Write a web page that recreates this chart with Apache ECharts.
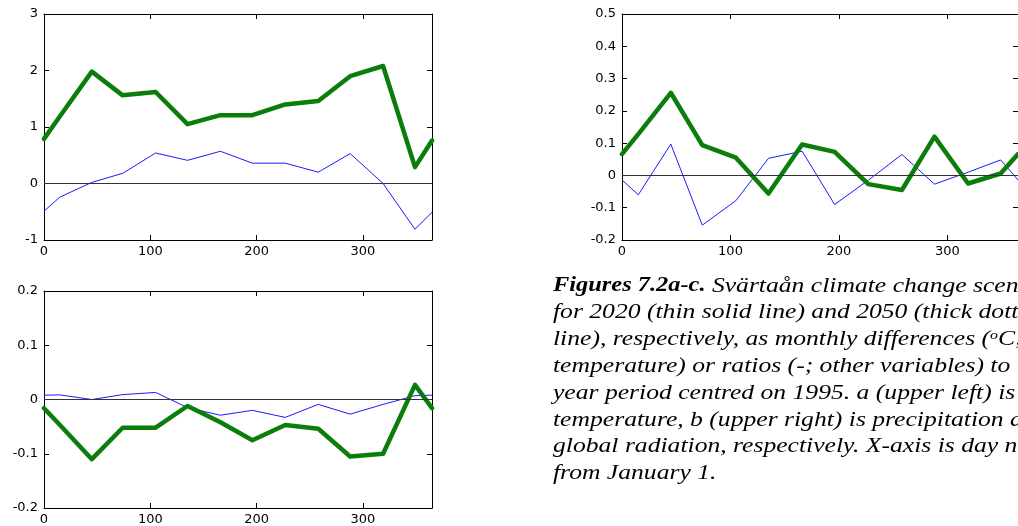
<!DOCTYPE html>
<html>
<head>
<meta charset="utf-8">
<script src="https://cdn.jsdelivr.net/npm/echarts@6/dist/echarts.min.js"></script>
<style>
html,body{margin:0;padding:0;background:#fff;}
#main{width:1018px;height:526px;}
</style>
</head>
<body>
<div id="main"></div>
<script>
// Day numbers (mid-month points plus year ends)
const days = [0, 15, 45, 74, 105, 135, 166, 196, 227, 258, 288, 319, 349, 365];
const xTicks = [0, 100, 200, 300];

// a) temperature differences (°C)
const temp2020 = [-0.49, -0.24, 0.02, 0.18, 0.54, 0.41, 0.57, 0.36, 0.36, 0.20, 0.53, 0.00, -0.81, -0.51];
const temp2050 = [0.79, 1.19, 1.98, 1.56, 1.62, 1.05, 1.21, 1.21, 1.40, 1.46, 1.90, 2.08, 0.29, 0.76];

// b) precipitation ratios
const prec2020 = [-0.014, -0.060, 0.097, -0.154, -0.078, 0.053, 0.075, -0.090, -0.015, 0.065, -0.027, 0.010, 0.048, -0.014];
const prec2050 = [0.066, 0.128, 0.256, 0.094, 0.055, -0.056, 0.096, 0.073, -0.027, -0.045, 0.120, -0.025, 0.006, 0.066];

// c) global radiation ratios
const rad2020 = [0.008, 0.0085, 0.000, 0.009, 0.013, -0.015, -0.029, -0.020, -0.033, -0.009, -0.027, -0.009, 0.007, 0.008];
const rad2050 = [-0.016, -0.047, -0.110, -0.052, -0.052, -0.012, -0.042, -0.075, -0.047, -0.054, -0.105, -0.100, 0.027, -0.016];

// caption lines
const captionLines = [
  '{b|Figures 7.2a-c.} Svärtaån climate change scenarios',
  'for 2020 (thin solid line) and 2050 (thick dotted',
  'line), respectively, as monthly differences ({s|o}C;',
  'temperature) or ratios (-; other variables) to the 30-',
  'year period centred on 1995. a (upper left) is',
  'temperature, b (upper right) is precipitation and c',
  'global radiation, respectively. X-axis is day number',
  'from January 1.'
];

const panels = [
  {grid: {left: 44, top: 14, width: 388, height: 226}, yMin: -1, yMax: 3, yInt: 1, thin: temp2020, thick: temp2050},
  {grid: {left: 622, top: 14, width: 404, height: 226}, yMin: -0.2, yMax: 0.5, yInt: 0.1, thin: prec2020, thick: prec2050},
  {grid: {left: 44, top: 291, width: 388, height: 219}, yMin: -0.2, yMax: 0.2, yInt: 0.1, thin: rad2020, thick: rad2050}
];

const labelFont = {fontFamily: 'DejaVu Sans', fontSize: 13, color: '#000'};
const axLine = {show: true, onZero: false, lineStyle: {color: '#000', width: 1}};

const grids = [], xAxes = [], yAxes = [], series = [];
panels.forEach((p, i) => {
  grids.push(Object.assign({containLabel: false}, p.grid));
  xAxes.push({
    gridIndex: i, type: 'value', min: 0, max: 365, position: 'bottom',
    axisLine: axLine,
    axisTick: {show: true, inside: true, length: 5, customValues: xTicks, lineStyle: {color: '#000'}},
    axisLabel: Object.assign({customValues: xTicks, margin: 5}, labelFont),
    splitLine: {show: false}
  });
  xAxes.push({
    gridIndex: i, type: 'value', min: 0, max: 365, position: 'top',
    axisLine: axLine,
    axisTick: {show: true, inside: true, length: 5, customValues: xTicks, lineStyle: {color: '#000'}},
    axisLabel: {show: false},
    splitLine: {show: false}
  });
  yAxes.push({
    gridIndex: i, type: 'value', min: p.yMin, max: p.yMax, interval: p.yInt, position: 'left',
    axisLine: axLine,
    axisTick: {show: true, inside: true, length: 5, lineStyle: {color: '#000'}},
    axisLabel: Object.assign({margin: 6}, labelFont),
    splitLine: {show: false}
  });
  yAxes.push({
    gridIndex: i, type: 'value', min: p.yMin, max: p.yMax, interval: p.yInt, position: 'right',
    axisLine: axLine,
    axisTick: {show: true, inside: true, length: 5, lineStyle: {color: '#000'}},
    axisLabel: {show: false},
    splitLine: {show: false}
  });
  series.push({
    type: 'line', xAxisIndex: 2 * i, yAxisIndex: 2 * i,
    data: days.map((d, k) => [d, p.thin[k]]),
    symbol: 'none', lineStyle: {color: '#1a1aff', width: 1}, z: 3,
    markLine: {
      silent: true, symbol: ['none', 'none'], label: {show: false},
      lineStyle: {color: '#333', width: 1, type: 'solid'},
      data: [{yAxis: 0}], animation: false
    }
  });
  series.push({
    type: 'line', xAxisIndex: 2 * i, yAxisIndex: 2 * i,
    data: days.map((d, k) => [d, p.thick[k]]),
    symbol: 'none', lineStyle: {color: '#0a7d0a', width: 4.5, cap: 'round', join: 'round'}, z: 4
  });
});

const graphics = captionLines.map((t, k) => ({
  type: 'text', silent: true,
  x: 553, y: 286 + k * 26.8, scaleX: 1.22, scaleY: 1, originX: 0, originY: 0,
  style: {
    x: 0, y: 0, text: t,
    fontFamily: 'Liberation Serif', fontSize: 21, fontStyle: 'italic',
    fill: '#000', verticalAlign: 'middle', align: 'left',
    rich: {
      b: {fontFamily: 'Liberation Serif', fontSize: 20, fontStyle: 'italic', fontWeight: 'bold', fill: '#000', lineHeight: 24},
      s: {fontFamily: 'Liberation Serif', fontSize: 13, fontStyle: 'italic', fill: '#000', lineHeight: 12, verticalAlign: 'top'}
    }
  }
}));

const chart = echarts.init(document.getElementById('main'), null, {renderer: 'canvas'});
chart.setOption({
  animation: false,
  backgroundColor: '#fff',
  grid: grids, xAxis: xAxes, yAxis: yAxes, series: series,
  graphic: graphics
});
</script>
</body>
</html>
